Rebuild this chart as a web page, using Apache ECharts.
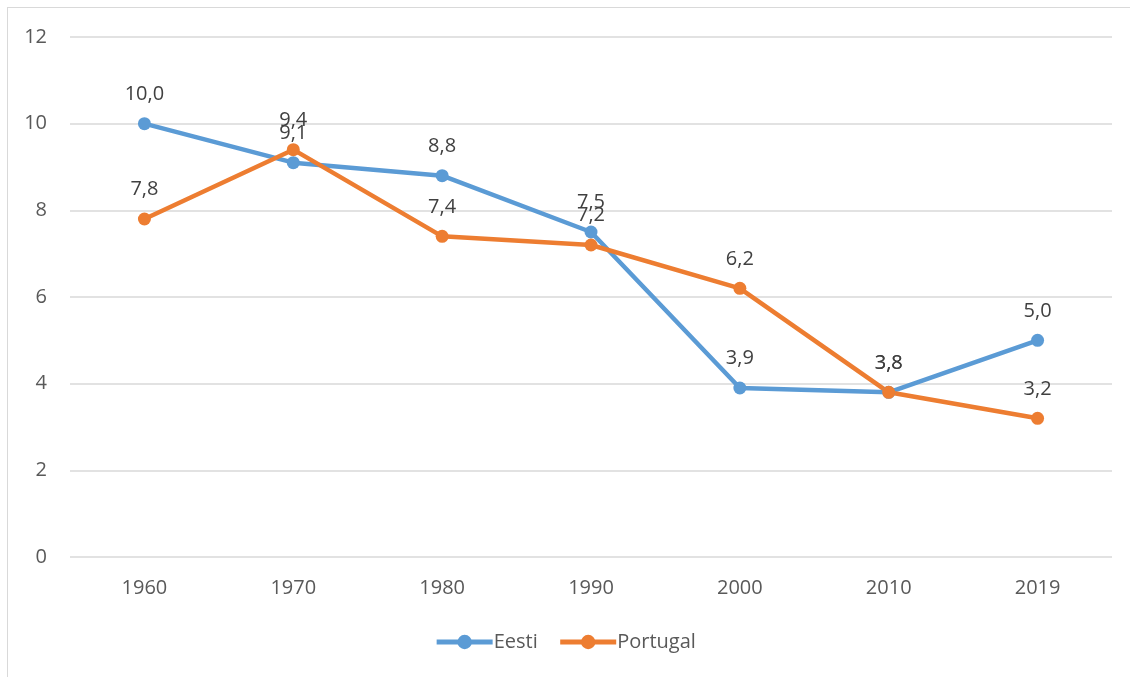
<!DOCTYPE html>
<html>
<head>
<meta charset="utf-8">
<script src="https://cdn.jsdelivr.net/npm/echarts@6/dist/echarts.min.js"></script>
<style>
  html, body { margin: 0; padding: 0; background: #fff; }
  #frame { position: absolute; left: 7px; top: 7px; width: 1200px; height: 700px; border: 1px solid #d9d9d9; box-sizing: border-box; }
  #chart { position: absolute; left: 0; top: 0; width: 1130px; height: 677px; }
</style>
</head>
<body>
<div id="frame"></div>
<div id="chart"></div>
<script>
const years = ['1960', '1970', '1980', '1990', '2000', '2010', '2019']
const eesti = [10.0, 9.1, 8.8, 7.5, 3.9, 3.8, 5.0]
const portugal = [7.8, 9.4, 7.4, 7.2, 6.2, 3.8, 3.2]

const font = 'Open Sans, Noto Sans, sans-serif'
const fmt = (p) => p.value.toFixed(1).replace('.', ',')

const chart = echarts.init(document.getElementById('chart'))

const makeSeries = (name, data, color) => ({
  name,
  type: 'line',
  data,
  symbol: 'circle',
  symbolSize: 13,
  itemStyle: { color },
  lineStyle: { color, width: 4.5 },
  label: {
    show: true,
    position: 'top',
    distance: 13,
    formatter: fmt,
    color: '#404040',
    fontSize: 20,
    fontFamily: font
  },
  emphasis: { disabled: true },
  animation: false
})

chart.setOption({
  backgroundColor: 'transparent',
  grid: { left: 70, right: 18, top: 37, bottom: 120 },
  xAxis: {
    type: 'category',
    data: years,
    boundaryGap: true,
    axisLine: { show: false },
    axisTick: { show: false },
    axisLabel: { color: '#595959', fontSize: 20, fontFamily: font, margin: 21 }
  },
  yAxis: {
    type: 'value',
    min: 0,
    max: 12,
    interval: 2,
    axisLine: { show: false },
    axisTick: { show: false },
    splitLine: { lineStyle: { color: '#d9d9d9', width: 1.5 } },
    axisLabel: { color: '#595959', fontSize: 20, fontFamily: font, margin: 23 }
  },
  legend: {
    top: 627,
    left: 'center',
    itemWidth: 56,
    itemHeight: 18,
    itemGap: 20,
    itemStyle: { borderWidth: 0 },
    lineStyle: { width: 5 },
    textStyle: { color: '#595959', fontSize: 20, fontFamily: font, padding: [0, 0, 0, -4] },
    data: ['Eesti', 'Portugal']
  },
  series: [
    makeSeries('Eesti', eesti, '#5b9bd5'),
    makeSeries('Portugal', portugal, '#ed7d31')
  ]
})

window.addEventListener('resize', () => chart.resize())
</script>
</body>
</html>
